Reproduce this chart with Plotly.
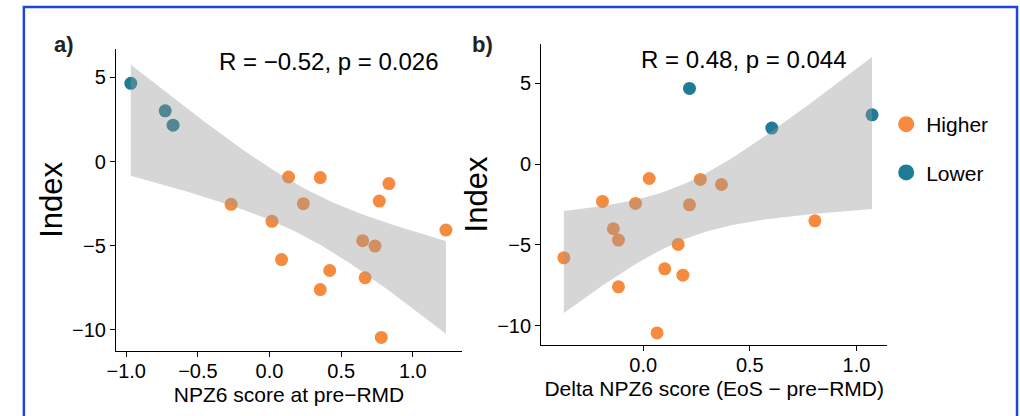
import numpy as np
import plotly.graph_objects as go

# ---------------- data ----------------
GROUPS = ["Higher", "Lower"]
GROUP_COLORS = {"Higher": "#F68B40", "Lower": "#1F7C97"}

# panel a) NPZ6 score at pre-RMD vs Index
A_X = [-0.968, -0.728, -0.673, -0.268, 0.017, 0.133, 0.354, 0.236, 0.084,
       0.420, 0.354, 0.650, 0.736, 0.667, 0.766, 0.833, 1.231, 0.780]
A_Y = [4.64, 3.01, 2.16, -2.54, -3.55, -0.92, -0.95, -2.50, -5.82,
       -6.47, -7.60, -4.70, -5.02, -6.90, -2.35, -1.31, -4.07, -10.44]
A_GROUP = ["Lower"] * 3 + ["Higher"] * 15

# panel b) Delta NPZ6 score (EoS - pre-RMD) vs Index
B_X = [0.217, 1.073, 0.603, 0.028, -0.191, -0.036, 0.268, 0.367, 0.217,
       -0.140, -0.116, -0.372, 0.164, 0.101, 0.186, -0.116, 0.065, 0.805]
B_Y = [4.68, 3.05, 2.23, -0.89, -2.31, -2.43, -0.95, -1.26, -2.52,
       -4.00, -4.70, -5.80, -4.97, -6.48, -6.87, -7.59, -10.44, -3.51]
B_GROUP = ["Lower"] * 3 + ["Higher"] * 15

A_STAT = "R = \u22120.52, p = 0.026"
B_STAT = "R = 0.48, p = 0.044"
A_XTITLE = "NPZ6 score at pre\u2212RMD"
B_XTITLE = "Delta NPZ6 score (EoS \u2212 pre\u2212RMD)"
Y_TITLE = "Index"
A_XTICKS = [-1.0, -0.5, 0.0, 0.5, 1.0]
B_XTICKS = [0.0, 0.5, 1.0]
Y_TICKS = [-10, -5, 0, 5]

T_975_DF16 = 2.1199  # Student t quantile used by lm confidence band (n=18)

FONT = "Liberation Sans, Arial, Helvetica, sans-serif"


def lm_band(x, y, npts=80, tq=T_975_DF16):
    x = np.asarray(x, float)
    y = np.asarray(y, float)
    n = len(x)
    b1, b0 = np.polyfit(x, y, 1)
    resid = y - (b0 + b1 * x)
    s = np.sqrt(np.sum(resid ** 2) / (n - 2))
    xs = np.linspace(x.min(), x.max(), npts)
    sxx = np.sum((x - x.mean()) ** 2)
    se = s * np.sqrt(1.0 / n + (xs - x.mean()) ** 2 / sxx)
    yhat = b0 + b1 * xs
    return xs, yhat - tq * se, yhat + tq * se


fig = go.Figure()


def add_panel(x, y, groups, xa, ya):
    for g in GROUPS:
        xs = [xi for xi, gi in zip(x, groups) if gi == g]
        ys = [yi for yi, gi in zip(y, groups) if gi == g]
        fig.add_trace(go.Scatter(
            x=xs, y=ys, mode="markers", xaxis=xa, yaxis=ya, showlegend=False,
            marker=dict(size=13, color=GROUP_COLORS[g], line=dict(width=0)),
            hoverinfo="x+y"))
    bx, lo, hi = lm_band(x, y)
    fig.add_trace(go.Scatter(
        x=np.concatenate([bx, bx[::-1]]), y=np.concatenate([hi, lo[::-1]]),
        mode="lines", fill="toself", fillcolor="rgba(153,153,153,0.4)",
        line=dict(width=0), xaxis=xa, yaxis=ya, showlegend=False,
        hoverinfo="skip"))


add_panel(A_X, A_Y, A_GROUP, "x", "y")
add_panel(B_X, B_Y, B_GROUP, "x2", "y2")

# legend entries
for i, g in enumerate(GROUPS):
    fig.add_trace(go.Scatter(
        x=[None], y=[None], mode="markers", name=g, legendgroup=g,
        marker=dict(size=16, color=GROUP_COLORS[g]), xaxis="x2", yaxis="y2"))

axis_common = dict(
    showline=True, linecolor="black", linewidth=1.3,
    ticks="outside", ticklen=5, tickwidth=1.3, tickcolor="black",
    showgrid=False, zeroline=False,
    tickfont=dict(size=20, color="black", family=FONT),
    fixedrange=True,
)

W, H = 1020, 416

fig.update_layout(
    width=W, height=H,
    margin=dict(l=0, r=0, t=0, b=0),
    paper_bgcolor="white", plot_bgcolor="white",
    font=dict(family=FONT, color="black"),
    xaxis=dict(axis_common, domain=[108 / W, 457 / W], anchor="y",
               range=[-1.071, 1.343], tickvals=A_XTICKS, tickformat=".1f",
               ticklabelstandoff=-3,
               title=dict(text=A_XTITLE, font=dict(size=21), standoff=6)),
    yaxis=dict(axis_common, domain=[1 - 350.7 / H, 1 - 49 / H], anchor="x",
               range=[-11.23, 6.68], tickvals=Y_TICKS,
               title=dict(text=Y_TITLE, font=dict(size=31), standoff=0)),
    xaxis2=dict(axis_common, domain=[537 / W, 886 / W], anchor="y2",
                range=[-0.478, 1.144], tickvals=B_XTICKS, tickformat=".1f",
                ticklabelstandoff=-3,
                title=dict(text=B_XTITLE, font=dict(size=21), standoff=6)),
    yaxis2=dict(axis_common, domain=[1 - 345 / H, 1 - 44 / H], anchor="x2",
                range=[-11.19, 7.43], tickvals=Y_TICKS,
                title=dict(text=Y_TITLE, font=dict(size=31), standoff=0)),
    legend=dict(x=885 / W, xanchor="left", y=1 - 104 / H, yanchor="top",
                font=dict(size=21, color="black"), tracegroupgap=18,
                bgcolor="rgba(0,0,0,0)", borderwidth=0),
    showlegend=True,
    annotations=[
        dict(text=A_STAT, xref="paper", yref="paper", x=323 / W, y=1 - 61 / H,
             showarrow=False, font=dict(size=24, color="black"),
             xanchor="center", yanchor="middle"),
        dict(text=B_STAT, xref="paper", yref="paper", x=741.5 / W, y=1 - 59 / H,
             showarrow=False, font=dict(size=24, color="black"),
             xanchor="center", yanchor="middle"),
        dict(text="<b>a)</b>", xref="paper", yref="paper", x=55 / W, y=1 - 45 / H,
             showarrow=False, font=dict(size=22, color="#222222"),
             xanchor="center", yanchor="middle"),
        dict(text="<b>b)</b>", xref="paper", yref="paper", x=478 / W, y=1 - 45 / H,
             showarrow=False, font=dict(size=22, color="#222222"),
             xanchor="center", yanchor="middle"),
    ],
    shapes=[
        dict(type="path", xref="paper", yref="paper",
             path=f"M {15 / W},0 L {15 / W},{1 - 7 / H} L {1017 / W},{1 - 7 / H} L {1017 / W},0",
             line=dict(color="#1E46DC", width=2.5)),
    ],
)

fig.write_html("out.html")
